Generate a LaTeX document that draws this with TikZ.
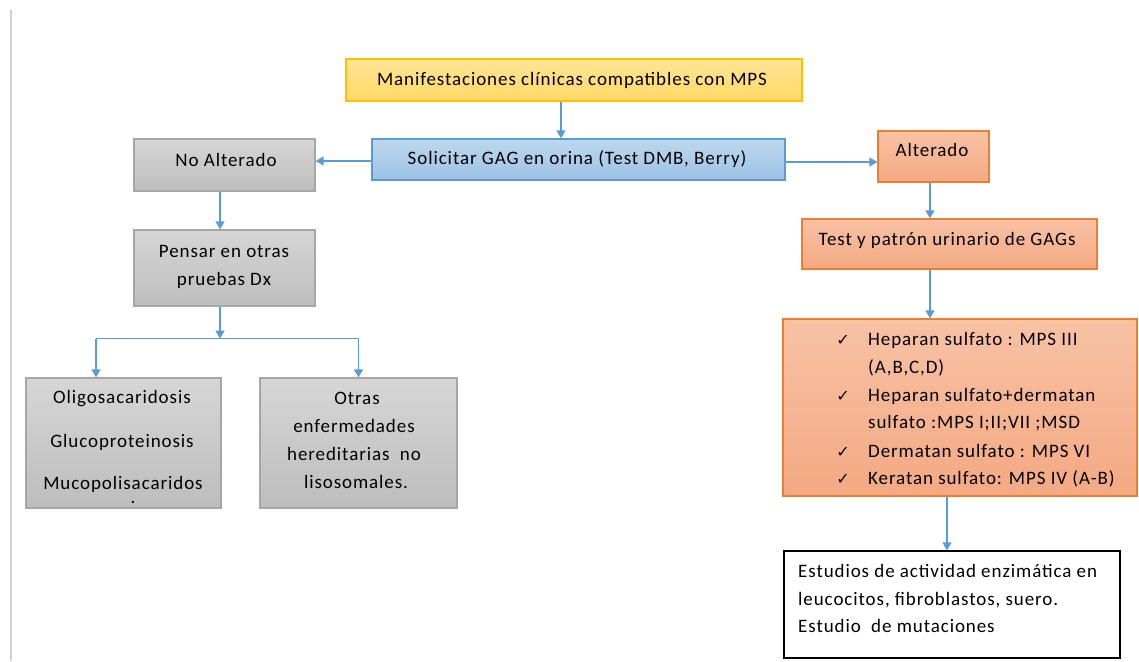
\documentclass[tikz,border=0pt]{standalone}
\usepackage{fontspec}
\setmainfont{Carlito}[LetterSpace=4.8]
\newfontfamily\symfont{DejaVu Sans}
\usetikzlibrary{arrows.meta,calc}
\definecolor{arrowblue}{HTML}{5B9BD5}
\definecolor{ybord}{HTML}{FFC000}
\definecolor{ytop}{HTML}{FFE596}
\definecolor{ybot}{HTML}{FFD865}
\definecolor{bbord}{HTML}{5B9BD5}
\definecolor{btop}{HTML}{BDD7EE}
\definecolor{bbot}{HTML}{9DC3E6}
\definecolor{gbord}{HTML}{A6A6A6}
\definecolor{gtop}{HTML}{D6D6D6}
\definecolor{gbot}{HTML}{BDBDBD}
\definecolor{obord}{HTML}{ED7D31}
\definecolor{otop}{HTML}{F8C2A5}
\definecolor{obot}{HTML}{F4A982}
\definecolor{leftline}{HTML}{D0D0D0}
\tikzset{
  boxbase/.style={rectangle, inner sep=0pt, line width=1.2pt},
  yellowbox/.style={boxbase, draw=ybord, top color=ytop, bottom color=ybot},
  bluebox/.style={boxbase, draw=bbord, top color=btop, bottom color=bbot},
  graybox/.style={boxbase, draw=gbord, top color=gtop, bottom color=gbot},
  orangebox/.style={boxbase, draw=obord, top color=otop, bottom color=obot},
  plainbox/.style={boxbase, draw=black, fill=white},
  txt/.style={inner sep=0pt, font=\fontsize{19}{23}\selectfont, text=black},
  ctxt/.style={txt, anchor=base},
  ltxt/.style={txt, anchor=base west},
  chk/.style={inner sep=0pt, anchor=base, font=\symfont\fontsize{16}{18}\selectfont},
  arr/.style={draw=arrowblue, line width=1.3pt, -{Triangle[length=8pt,width=9pt]}},
  conn/.style={draw=arrowblue, line width=1.5pt}
}
\begin{document}
\begin{tikzpicture}[x=1pt,y=-1pt]
\useasboundingbox (0,0) rectangle (1139,661);
\draw[leftline, line width=2pt] (11,10) -- (11,661);

% boxes
\node[yellowbox, minimum width=456pt, minimum height=42pt] (man) at (574,80) {};
\node[bluebox, minimum width=413pt, minimum height=41pt] (sol) at (578.5,159.5) {};
\node[graybox, minimum width=181pt, minimum height=52pt] (noalt) at (224.5,165) {};
\node[graybox, minimum width=181pt, minimum height=76pt] (pens) at (224.5,268) {};
\node[orangebox, minimum width=111pt, minimum height=51pt] (alt) at (933.5,156.5) {};
\node[orangebox, minimum width=295pt, minimum height=50pt] (test) at (949.5,244) {};
\node[orangebox, minimum width=354pt, minimum height=177pt] (list) at (960,407.5) {};
\node[plainbox, minimum width=336pt, minimum height=107pt] (est) at (952,604.5) {};
\node[graybox, minimum width=195pt, minimum height=130pt] (oligo) at (123.5,443) {};
\node[graybox, minimum width=197pt, minimum height=130pt] (otras) at (358.5,443) {};

% texts
\node[ctxt] (manT) at (572,85) {Manifestaciones clínicas compatibles con MPS};
\node[ctxt] (solT) at (577,164) {Solicitar GAG en orina (Test DMB, Berry)};
\node[ctxt] (noaltT) at (226,166) {No Alterado};
\node[ctxt] (pensT1) at (224,257) {Pensar en otras};
\node[ctxt] (pensT2) at (224,285) {pruebas Dx};
\node[ctxt] (altT) at (932,156) {Alterado};
\node[ctxt] (testT) at (947,245) {Test y patrón urinario de GAGs};

\node[chk] (c1) at (843,345) {✓};
\node[chk] (c2) at (843,401) {✓};
\node[chk] (c3) at (843,457) {✓};
\node[chk] (c4) at (843,484) {✓};
\node[ltxt] (l1) at (868,345) {Heparan sulfato : MPS III};
\node[ltxt] (l2) at (868,373) {(A,B,C,D)};
\node[ltxt] (l3) at (868,401) {Heparan sulfato+dermatan};
\node[ltxt] (l4) at (868,428) {sulfato :MPS I;II;VII ;MSD};
\node[ltxt] (l5) at (868,457) {Dermatan sulfato : MPS VI};
\node[ltxt] (l6) at (868,484) {Keratan sulfato: MPS IV (A-B)};

\node[ltxt] (e1) at (798,577) {Estudios de actividad enzimática en};
\node[ltxt] (e2) at (798,605) {leucocitos, fibroblastos, suero.};
\node[ltxt] (e3) at (798,632) {Estudio\ \ de mutaciones};

\node[ctxt] (o1) at (122,403) {Oligosacaridosis};
\node[ctxt] (o2) at (122,447) {Glucoproteinosis};
\node[ctxt] (o3) at (123,503) {\shortstack{Mucopolisacaridos\\[5pt]\hspace{20pt}.}};

\node[ctxt] (t1) at (357,404) {Otras};
\node[ctxt] (t2) at (354,432) {enfermedades};
\node[ctxt] (t3) at (354,460) {hereditarias\ \ no};
\node[ctxt] (t4) at (356,488) {lisosomales.};

% connectors
\draw[arr] ([xshift=-13pt]man.south) -- ([xshift=-13pt]man.south |- sol.north);
\draw[arr] ([yshift=-1.5pt]sol.west) -- ([yshift=-1.5pt]sol.west -| noalt.east);
\draw[arr] ([yshift=-2.5pt]sol.east) -- ([yshift=-2.5pt]sol.east -| alt.west);
\draw[arr] ([xshift=-4.5pt]noalt.south) -- ([xshift=-4.5pt]pens.north);
\draw[arr] ([xshift=-3.5pt]alt.south) -- ([xshift=-3.5pt]alt.south |- test.north);
\draw[arr] ([xshift=-3.5pt]alt.south |- test.south) -- ([xshift=-3.5pt]alt.south |- list.north);
\draw[arr] ([xshift=-5pt]est.north |- list.south) -- ([xshift=-5pt]est.north);

\coordinate (junc) at ($(pens.south)+(-4.5,32)$);
\coordinate (lefttop) at ([xshift=-27.5pt]oligo.north);
\draw[arr] ([xshift=-4.5pt]pens.south) -- (junc);
\draw[conn] (lefttop |- junc) -- (otras.north |- junc);
\draw[arr] (lefttop |- junc) -- (lefttop);
\draw[arr] (otras.north |- junc) -- (otras.north);
\end{tikzpicture}
\end{document}
